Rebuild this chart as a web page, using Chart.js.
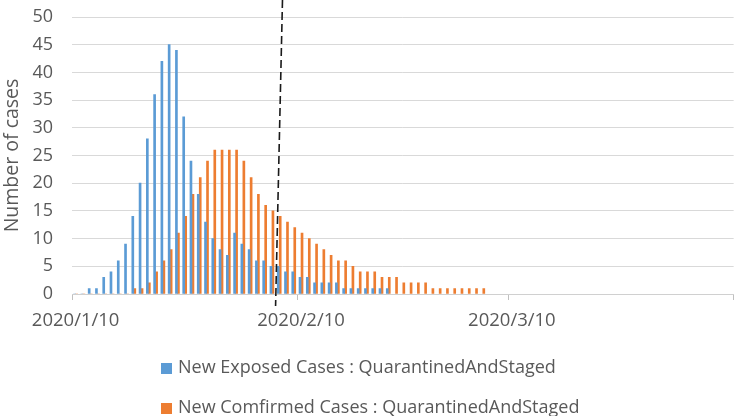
<!DOCTYPE html>
<html>
<head>
<meta charset="utf-8">
<script src="https://cdn.jsdelivr.net/npm/chart.js@4.4.1/dist/chart.umd.min.js"></script>
<style>
  html, body { margin: 0; padding: 0; background: #fff; }
</style>
</head>
<body>
<canvas id="chart" width="740" height="416"></canvas>
<script>
// Jours de l'axe : du 2020/1/10 au 2020/4/9 (axe de dates, un jour par catégorie)
const days = [];
for (let i = 0; i < 91; i++) {
  const d = new Date(2020, 0, 10 + i);
  days.push(d.getFullYear() + '/' + (d.getMonth() + 1) + '/' + d.getDate());
}

// Étiquettes affichées sous l'axe
const tickLabels = ['2020/1/10', '2020/2/10', '2020/3/10'];
// Graduations (début de mois) : 1/10, 2/10, 3/10, 4/10
const tickMarks = ['2020/1/10', '2020/2/10', '2020/3/10', '2020/4/10'];

// Séries (à partir du 2020/1/10)
const exposedLabel = 'New Exposed Cases : QuarantinedAndStaged';
const exposed = [0, 0, 1, 1, 3, 4, 6, 9, 14, 20, 28, 36, 42, 45, 44, 32, 24, 18, 13, 10,
  8, 7, 11, 9, 8, 6, 6, 5, 5, 4, 4, 3, 3, 2, 2, 2, 2, 1, 1, 1, 1, 1, 1, 1];

const confirmedLabel = 'New Comfirmed Cases : QuarantinedAndStaged';
const confirmed = [0, 0, 0, 0, 0, 0, 0, 0, 1, 1, 2, 4, 6, 8, 11, 14, 18, 21, 24, 26,
  26, 26, 26, 24, 21, 18, 16, 15, 14, 13, 12, 11, 10, 9, 8, 7, 6, 6, 5, 4,
  4, 4, 3, 3, 3, 2, 2, 2, 2, 1, 1, 1, 1, 1, 1, 1, 1];

// Ligne verticale en pointillés (position en jours, haut -> bas, tracée à la main)
const markerDays = [28.45, 27.5];

const textColor = '#595959';
const fontFamily = "'Open Sans', sans-serif";

// Légende dessinée à la main (deux lignes alignées à gauche)
const legendPlugin = {
  id: 'legendRows',
  afterDraw(chart) {
    const ctx = chart.ctx;
    ctx.save();
    ctx.font = '18px ' + fontFamily;
    ctx.textBaseline = 'middle';
    chart.data.datasets.forEach((ds, i) => {
      const y = 368 + i * 40;
      ctx.fillStyle = ds.backgroundColor;
      ctx.fillRect(161, y - 5, 11, 11);
      ctx.fillStyle = textColor;
      ctx.fillText(ds.label, 178, y);
    });
    ctx.restore();
  }
};

// Ligne pointillée verticale
const markerPlugin = {
  id: 'marker',
  afterDatasetsDraw(chart) {
    const x = chart.scales.x;
    const area = chart.chartArea;
    const ctx = chart.ctx;
    ctx.save();
    ctx.strokeStyle = '#1a1a1a';
    ctx.lineWidth = 1.6;
    ctx.setLineDash([8, 4]);
    ctx.beginPath();
    ctx.moveTo(x.getPixelForValue(markerDays[0]), 0);
    ctx.lineTo(x.getPixelForValue(markerDays[1]), area.bottom + 12);
    ctx.stroke();
    ctx.restore();
  }
};

new Chart(document.getElementById('chart'), {
  type: 'bar',
  data: {
    labels: days,
    datasets: [
      { label: exposedLabel, data: exposed, backgroundColor: '#5B9BD5', barThickness: 2, borderWidth: 0 },
      { label: confirmedLabel, data: confirmed, backgroundColor: '#ED7D31', barThickness: 2, borderWidth: 0 }
    ]
  },
  options: {
    responsive: false,
    animation: false,
    devicePixelRatio: 1,
    layout: { padding: { top: 17, right: 1, left: 0, bottom: 0 } },
    plugins: {
      legend: { display: false },
      tooltip: { enabled: false }
    },
    scales: {
      x: {
        offset: true,
        grid: {
          offset: true,
          drawOnChartArea: false,
          tickLength: 6,
          color: (c) => {
            if (c.index === undefined) return '#c0c0c0';
            return tickMarks.includes(days[c.index]) ? '#c0c0c0' : 'rgba(0,0,0,0)';
          }
        },
        border: { color: '#d0d0d0', width: 1 },
        ticks: {
          autoSkip: false,
          maxRotation: 0,
          padding: 10,
          color: textColor,
          font: { family: fontFamily, size: 18.5 },
          callback: (v, i) => tickLabels.includes(days[i]) ? days[i] : ''
        },
        afterFit: (s) => { s.height = 122; }
      },
      y: {
        min: 0,
        max: 50,
        ticks: {
          stepSize: 5,
          padding: 19,
          color: textColor,
          font: { family: fontFamily, size: 18 }
        },
        grid: { color: '#d9d9d9', drawTicks: false },
        border: { display: false },
        title: {
          display: true,
          text: 'Number of cases',
          color: textColor,
          font: { family: fontFamily, size: 19.5 },
          padding: { top: 1, bottom: 0 }
        },
        // largeur fixe, et pas de marge haute ajoutée par le padding des étiquettes
        afterFit: (s) => { s.width = 72; s.paddingTop = 0; s.paddingBottom = 0; }
      }
    }
  },
  plugins: [legendPlugin, markerPlugin]
});
</script>
</body>
</html>
